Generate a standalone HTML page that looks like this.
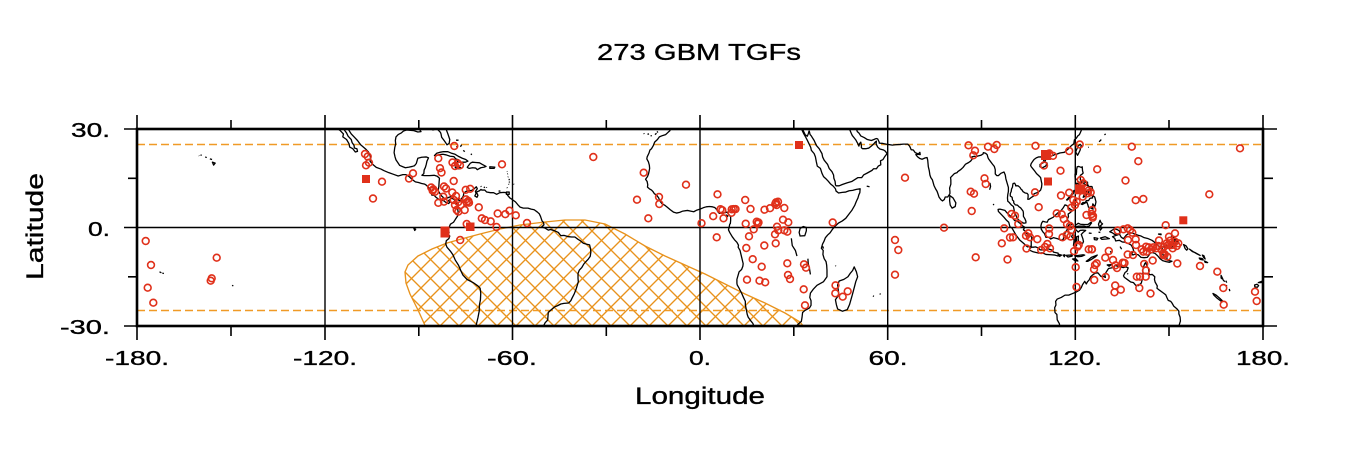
<!DOCTYPE html>
<html><head><meta charset="utf-8"><style>
html,body{margin:0;padding:0;background:#fff;}
svg{display:block;}
text{font-family:"Liberation Sans",Arial,sans-serif;fill:#000;stroke:#000;stroke-width:0.35;}
</style></head><body>
<svg width="1353" height="451" viewBox="0 0 1353 451" xmlns="http://www.w3.org/2000/svg">
<defs>
<clipPath id="pc"><rect x="137" y="129" width="1126" height="197"/></clipPath>
<pattern id="hatch" width="19" height="19" patternUnits="userSpaceOnUse" x="3" y="3">
<path d="M-2,-2L21,21M21,-2L-2,21" stroke="#e8921c" stroke-width="1.35" fill="none"/>
</pattern>
</defs>
<rect width="1353" height="451" fill="#fff"/>
<text x="597" y="60" font-size="23.5" textLength="204" lengthAdjust="spacingAndGlyphs">273 GBM TGFs</text>
<text transform="translate(43,280) rotate(-90)" font-size="24" textLength="107" lengthAdjust="spacingAndGlyphs">Latitude</text>
<text x="635" y="404" font-size="24" textLength="130" lengthAdjust="spacingAndGlyphs">Longitude</text>
<g font-size="20">
<text x="71" y="137" textLength="39" lengthAdjust="spacingAndGlyphs">30.</text>
<text x="88" y="236" textLength="22" lengthAdjust="spacingAndGlyphs">0.</text>
<text x="60" y="334" textLength="50" lengthAdjust="spacingAndGlyphs">-30.</text>
<text x="105" y="365" textLength="64" lengthAdjust="spacingAndGlyphs">-180.</text>
<text x="293" y="365" textLength="64" lengthAdjust="spacingAndGlyphs">-120.</text>
<text x="487" y="365" textLength="50" lengthAdjust="spacingAndGlyphs">-60.</text>
<text x="689" y="365" textLength="22" lengthAdjust="spacingAndGlyphs">0.</text>
<text x="868.5" y="365" textLength="39" lengthAdjust="spacingAndGlyphs">60.</text>
<text x="1048" y="365" textLength="54" lengthAdjust="spacingAndGlyphs">120.</text>
<text x="1236" y="365" textLength="54" lengthAdjust="spacingAndGlyphs">180.</text>
</g>
<g clip-path="url(#pc)">
<path d="M428,332 L418,310 L410,294 L406,283 L405,272 L408,265 L418,256 L432,249 L447,243 L465,238 L480,234 L500,229 L520,225 L545,222 L565,220 L585,220 L605,224 L625,234 L645,246 L665,256 L685,265 L705,274 L725,284 L745,294 L765,303 L785,313 L800,322 L808,332 Z" fill="url(#hatch)" stroke="#e8921c" stroke-width="1.35"/>
<path d="M137,144.5H1263M137,310.5H1263" stroke="#f09a26" stroke-width="1.5" stroke-dasharray="8,4" fill="none"/>
<g transform="matrix(3.1278 0 0 -3.283 700 227.5)" fill="none" stroke="#000" stroke-width="1.3" stroke-linejoin="round">
<path vector-effect="non-scaling-stroke" d="M-117.1,32.5L-116.6,31.5L-116,30.2L-115,29.5L-114,28.5L-114.2,27.6L-113,26.8L-112.2,25.5L-112,24.5L-111,24L-110.2,23L-109.5,23.2L-109.7,24L-110.5,24.2L-110.6,25L-111.2,25.8L-111.5,26.8L-112.5,27.8L-113,28.8L-113.8,29.8L-114.5,30.8L-114.8,31.8"/>
<path vector-effect="non-scaling-stroke" d="M-114.8,31.8L-113.5,31.3L-112.5,30L-111.5,28.5L-110.5,27.5L-109.5,26.5L-108.5,25.2L-107,24L-106,23L-105.5,22L-105.3,21L-105.5,20.2L-104.5,19.1L-103.5,18.3L-102,17.8L-101,17.3L-99.5,16.7L-98,16.2L-96.5,15.7L-95,16.1L-94,16.1L-93,15.5L-92,14.6L-91,13.9L-90,13.7L-89,13.4L-88,13.2L-87.5,12.9L-86.8,12.2L-86,11.3L-85.7,10.5L-85.8,9.9L-85,9.8L-84.5,9.3L-83.7,8.7L-83,8.3L-82,8.2L-81.2,7.6L-80.4,7.3L-80,7.6L-80.4,8.2L-79.5,8.9L-78.9,8.7L-78.4,8.3L-78.2,7.5L-77.8,7.2L-77.4,6.6L-77.5,5.8L-77.3,4.5L-77.5,3.5L-78.2,2.5L-78.8,1.6L-79.8,1L-80.1,0.3L-80.5,-0.6L-80.2,-1.5L-80.8,-2L-80,-2.6L-80.3,-3.4L-81.1,-4L-81.3,-5L-80.9,-6L-79.8,-7.2L-79,-8.3L-78.2,-10L-77.2,-11.5L-76.3,-13.5L-75.8,-14.5L-74.5,-15.8L-72.5,-16.8L-71,-17.8L-70.3,-18.5L-70.1,-20L-70.2,-22L-70.5,-23.5L-70.6,-25.5L-71,-27.5L-71.5,-29.5L-71.6,-31"/>
<path vector-effect="non-scaling-stroke" d="M-81.4,31L-81.2,30L-80.6,28.5L-80,26.8L-80.2,25.6L-80.9,25.2L-81.3,25.8L-81.9,26.6L-82.6,27.5L-82.8,28.5L-83,29L-83.8,29.8L-84.5,30L-85.4,29.7L-86.5,30.4L-88,30.5L-89,30.3L-89.6,29.8L-89.2,29.2L-90.2,29.1L-91.5,29.5L-92.5,29.6L-93.8,29.7L-94.8,29.4L-95.5,28.8L-96.5,28.3L-97.2,27.6L-97.4,26.5L-97.3,25.5L-97.6,24.3L-97.8,22.8L-97.5,21.5L-97.2,20.6L-96.5,19.6L-96,18.9L-95,18.5L-94.2,18.2L-93,18.4L-92,18.6L-91.3,18.8L-90.7,19.5L-90.4,20.5L-90.2,21.1L-89,21.4L-87.5,21.5L-86.8,21.2L-87.3,20.2L-87.5,19.3L-87.8,18.3L-88.2,17.5L-88.3,16.4L-88.9,15.9L-88,15.8L-86.5,15.8L-85,15.9L-84,15.6L-83.3,15L-83.4,14L-83.5,12.5L-83.7,11.3L-83.4,10.7L-82.6,9.6L-81.8,8.9L-81,8.9L-80,9.3L-79,9.6L-78,9.2L-77.4,8.6L-76.8,8L-76.3,8.7L-75.7,9.5L-75.5,10.5L-74.8,11L-74,11.2L-73,11.3L-72.2,11.8L-71.5,12.4L-71.2,11.8L-71.8,11L-71.6,10.4L-72,9.6L-71.3,9.2L-71,9.8L-71.5,10.8L-70.5,11.2L-70,11.6L-69.8,11.4L-68.8,11.4L-68.2,10.8L-67,10.6L-66,10.6L-65,10.1L-64,10.6L-62.7,10.7L-62,10.6L-61.5,9.8L-60.8,9L-60,8.5L-59,7.8L-58.3,7L-57.5,6.2L-56.5,5.9L-55,5.9L-54,5.6L-53,5.4L-52,4.7L-51.4,4.2L-51,3.4L-50.5,2L-50,1.5L-49.9,0.8L-50.6,0.2L-49.5,-0.2L-48.5,-0.8L-47.8,-0.6L-46.5,-1L-45.3,-1.5L-44.5,-2.5L-43.5,-2.4L-42,-2.8L-41,-2.9L-40,-2.9L-39,-3.6L-38.3,-4L-37.3,-4.8L-36.2,-5.1L-35.3,-5.3L-35,-6.5L-34.9,-7.5L-35.1,-8.8L-35.7,-9.6L-36.5,-10.4L-37.2,-11.2L-37.8,-12.2L-38.6,-13L-39,-14L-39,-15.5L-38.9,-16.5L-39.3,-17.8L-39.7,-19L-40.2,-20.2L-40.9,-21.5L-41.3,-22.3L-42,-23L-43.5,-23.1L-44.5,-23.3L-45.5,-23.8L-46.5,-24.2L-47.5,-25L-48.5,-25.8L-48.6,-27L-48.7,-28.2L-49.5,-29L-50.2,-30.3L-51,-31.5"/>
<path vector-effect="non-scaling-stroke" d="M-84.9,21.9L-84.2,22.6L-83.2,22.9L-82,23.1L-80.6,23.1L-79.4,22.6L-78.3,22.3L-77.3,21.7L-76,21.1L-74.9,20.7L-74.2,20.2L-75,19.9L-76.5,19.9L-77.6,19.9L-77.2,20.6L-78.1,20.9L-78.7,21.6L-79.9,21.7L-81.1,22.1L-82.2,22.3L-83.3,22.2L-84.3,21.9Z M-74.4,18.4L-73.4,19.6L-72.8,19.9L-71.7,19.8L-70.5,19.7L-69.6,19.2L-69,18.9L-68.4,18.6L-69,18.4L-70.1,18.2L-71.2,17.6L-71.7,18.1L-72.7,18.2L-73.8,18L-74.4,18.3Z M-78.3,18.4L-77.2,18.5L-76.3,18.1L-76.8,17.9L-77.8,17.9Z M-67.2,18.5L-65.6,18.4L-65.8,18L-67.2,18Z M-77.8,24.8L-77.6,24.2M-78,26.6L-77.2,26.6M-76.2,25.2L-76.6,24.6M-75.7,23.5L-75.2,23.1M-73.3,22.4L-72.9,22.2 M-61.9,10.8L-61,10.8L-61,10.1L-61.9,10.1Z M-61.7,17.1L-61.6,17M-61.6,16.3L-61.4,16.4M-61.3,15.5L-61.4,15.3M-61,14.8L-61,14.4M-61,14L-60.9,13.7M-61.2,13.3L-61.1,13.1M-59.6,13.3L-59.5,13.1M-61.7,12.2L-61.6,12M-70.1,12.6L-69.9,12.4M-69.1,12.4L-68.8,12.1M-68.3,12.3L-68.2,12.1M-64.4,11.1L-63.8,11.1 M-91.5,-0.2L-90.9,-0.5L-91.2,-0.9Z"/>
<path vector-effect="non-scaling-stroke" d="M-155.9,19.9L-155,19.6L-155.5,19Z M-156.7,20.9L-156,20.7M-158.2,21.5L-157.7,21.3M-159.7,22.1L-159.3,22M-160.2,21.9L-160.1,21.8 M-172.8,-13.5L-172.2,-13.8M-171.9,-13.9L-171.4,-14 M-149.6,-17.6L-149.2,-17.8"/>
<path vector-effect="non-scaling-stroke" d="M-10,31L-9.7,30.2L-9.6,29.5L-10.2,29L-11,28.3L-12,28L-13,27.6L-13.6,26.8L-14.5,26L-14.9,25L-15.5,24L-16,23.6L-16.3,22.7L-16.9,21.5L-17,20.9L-16.5,20L-16.2,19L-16.1,18L-16.3,17L-16.5,16.2L-16.8,15.5L-17.4,14.7L-16.9,14L-16.7,13L-16.8,12.3L-16.2,11.8L-15.5,11.4L-15,10.9L-14.6,10.3L-13.8,9.8L-13.2,9L-12.9,8.2L-12.2,7.3L-11.3,6.8L-10.5,6.2L-9.5,5.4L-8.5,4.7L-7.5,4.4L-6.5,4.6L-5.5,5L-4,5.2L-3,5L-2,4.8L-1,5.3L0,5.6L1,6L2,6.3L3,6.4L4,6.3L4.7,6.1L5.3,5.5L5.7,4.8L6.2,4.3L7,4.4L8,4.5L8.6,4.7L9.3,3.9L9.8,3.2L9.8,2.2L9.7,1.2L9.5,1L9.3,0L9.1,-0.7L9.5,-1.5L10.3,-2.8L11,-3.7L11.8,-4.5L12.3,-5.4L12.2,-6L12.8,-7L13.1,-8.2L13.3,-9L13.6,-10.2L13.8,-11L13.7,-11.8L13.3,-12.8L12.5,-13.5L12.2,-14.5L11.8,-15.8L11.8,-17L11.9,-17.5L12.5,-18.5L13.3,-20L13.9,-21.3L14.5,-22.5L14.5,-23.5L14.8,-25L15.1,-26.5L15.4,-27.3L16.3,-28.5L16.9,-29.2L17.4,-30.5L18,-32 M-18,28.7L-17.8,28.5M-16.8,28.4L-16.3,28.5M-15.8,28L-15.4,27.9M-14.4,28.3L-13.9,28.7M-13.8,29L-13.4,29.2 M8.4,3.8L8.9,3.5L8.6,3.2Z"/>
<path vector-effect="non-scaling-stroke" d="M32.3,31L32.4,30L32.6,29.7L33.2,28.5L33.8,27.5L34.3,26.6L34.8,25.6L35.4,24.4L35.6,23.5L36.5,22.5L36.9,21.5L37.2,20L37.5,18.7L38.5,18L39,16.5L39.5,15.5L40.2,14.9L41,14.1L41.8,13.2L42.6,12.6L43.3,11.8L43.5,11.1L44.3,10.5L45.5,10.7L46.6,10.8L47.7,11.2L48.8,11.3L50,11.6L51.2,11.8L51.1,10.6L50.8,10L50.5,9L50,8L49.5,6.8L48.6,5.3L47.8,4.3L46.6,2.8L45.5,2L44.2,1.3L43.2,0.4L42.3,-0.6L41.6,-1.6L40.8,-2.3L40.1,-3.1L39.6,-4.3L39.2,-5L38.8,-6.3L39.4,-7L39.3,-8.2L39.7,-9.5L40.3,-10.4L40.5,-11.5L40.6,-13L40.6,-14.2L40.6,-15L39.5,-16.5L37.4,-17.6L36.3,-18.7L35.3,-20L35.1,-21.3L35.5,-22.3L35.5,-23.7L35,-24.5L33.5,-25.3L32.8,-25.9L32.6,-27.5L32.4,-28.6L31.3,-29.5L30.5,-30.8L30,-31.5 M32.7,30.5L33,29.5L33.6,28.3L34.3,27.8L34.6,28.5L34.9,29.5 M34.9,29.5L35.2,28.3L35.5,28L36.5,26.5L37.2,25L38.1,24L39,22.5L39.2,21.5L39.7,20.5L40.8,19.2L41.3,18L42.2,17L42.7,16L42.8,15L43.2,14L43.3,13L43.5,12.7L44.5,12.7L45.5,13.1L47,13.6L48.5,14L49.5,14.6L50.5,15.2L51.7,15.2L52.3,16L53.5,16.6L55,17.4L55.5,17.9L56.4,17.9L57,18.7L57.8,19.1L57.7,20.3L58.5,20.7L59,21.5L59.8,22.5L59.3,23.2L58.7,23.6L57.5,23.9L56.8,24.5L56.3,25.5L56.4,26.3L56,26L55.6,25.5L54.9,24.9L54,24.2L53,24L52,24L51.6,24.3L51.6,25L51.4,26L51,25.5L50.8,24.8L50.5,25.5L50.2,26L49.8,26.7L49.3,27.3L48.7,28L48.4,28.6L48,29.5L47.8,30.2 M32,-0.3L33,0.3L34,0L34,-1L33.5,-2.5L32,-2.6L31.7,-1.5Z M29.2,-3.3L29.5,-5.5L30.5,-7L31,-8.7 M34.5,-9.5L34.6,-11L35,-12.5L35.3,-14.3 M49.3,-12L50,-13.5L50.4,-15L49.8,-16.5L49.4,-18L48.7,-20.5L47.8,-23.5L47.1,-25L45.5,-25.5L44,-24.8L43.6,-23.5L43.3,-22L44.4,-20.5L44.2,-19L44,-17.5L44.5,-16.3L46,-15.8L47.3,-15L48,-14L48.8,-13.1Z M53.3,12.6L54.2,12.4 M55.3,-20.8L55.6,-21 M57.5,-20.1L57.7,-20.4 M39.2,-5.7L39.5,-6.4 M43.3,-11.6L43.4,-11.8"/>
<path vector-effect="non-scaling-stroke" d="M48.8,30.4L50,30L50.3,29.2L50.8,28.8L51.4,27.9L52.5,27.4L53.5,26.8L54.8,26.5L55.6,26.8L56.3,27.1L56.8,27L57.3,26L57.3,25.7L58.5,25.6L59.5,25.4L61.5,25.1L62.5,25.2L64,25.3L65,25.4L66.4,25.4L67,24.8L67.3,24.2L67.5,23.7L68.2,23.6L68.8,22.8L69.8,22.4L70.3,22.9L70.4,22.2L69.4,22.3L69,22.2L69.6,21.5L70.3,21L71,20.8L72,21.2L72.6,21.3L72.8,20.5L72.9,19.5L73,18.5L73.3,17.3L73.5,16L73.8,15.2L74.3,14.5L74.6,13.5L74.8,12.8L75.3,11.8L75.8,11L76.1,10.2L76.4,9.3L77,8.5L77.5,8.1L78.1,8.5L78.4,9.3L79.2,9.3L79.9,10.3L79.9,11L79.8,12L80.2,13.2L80.2,14.5L80.1,15.2L80.8,15.9L81.3,16.4L82.2,16.7L82.4,17L83.3,17.6L84.1,18.3L84.9,19.3L85.9,19.8L86.5,20.2L87,20.8L86.9,21.5L87.8,21.7L88.3,21.6L89,21.8L89.8,22L90.5,22.4L90.6,22.8L91.3,22.6L91.8,22.2L92.1,21.2L92.4,20.7L92.8,20.2L93.5,19.3L94.1,18.6L94.4,17.6L94.4,16.3L94.9,15.8L95.4,15.8L96.2,16.5L97.2,16.9L97.6,16L97.8,14.8L98.2,13.5L98.6,12.2L98.6,11L98.4,10L98.3,9L98.4,8L98.9,7.6L99.5,6.9L100.2,6.4L100.4,5.5L100.5,4.6L101,3.8L101.3,2.9L102,2.2L102.8,1.7L103.5,1.3L104.2,1.4L104.2,1.9L103.9,2.6L103.4,3.4L103.4,4.4L103.3,5L102.5,6L102,6.3L101.5,6.8L100.8,6.9L100.3,7.5L100.3,8L99.9,8.4L99.8,9.2L99.2,9.6L99.2,10.3L99.5,11L99.6,11.7L99.9,12.3L100,13L100.1,13.4L100.6,13.5L100.9,13L100.9,12.7L101.7,12.7L102.3,12.2L102.7,11.6L102.9,11.5L103.3,10.9L104,10.5L104.6,10.4L104.9,10L104.9,9.3L104.8,8.6L105.2,8.6L106,9.2L106.7,9.6L106.8,10.3L107.5,10.5L108.3,10.9L108.9,11.4L109.2,12.3L109.3,13.3L109.1,14.2L108.9,15.2L108.3,15.8L107.6,16.4L107,17.2L106.5,17.8L105.9,18.5L105.7,18.9L105.9,19.5L106.4,20.2L106.8,20.7L107.5,21.2L108.3,21.5L109.2,21.5L109.7,21.3L109.8,20.8L109.9,20.3L110.4,20.3L110.6,21L111,21.4L111.8,21.6L112.4,21.8L113,22L113.6,22.3L114.2,22.4L115,22.7L115.8,22.8L116.5,22.9L117.2,23.5L117.8,24L118.4,24.6L118.8,25L119.5,25.5L119.6,26.1L119.7,26.7L120.3,27.2L120.8,27.9L121.3,28.3L121.6,28.9L121.9,29.6L122.1,30.2L121.8,30.9 M79.9,9.7L80.9,9L81.8,7.5L81.6,6.4L80.6,5.9L80,6.8L79.8,8.2Z M108.7,19.2L110.3,20L111,19.6L110.5,18.7L109.5,18.2L108.7,18.5Z M120.1,23L120.7,22L121,22.5L121.5,23.5L121.9,25L121.5,25.3L120.8,24.7Z M92.7,13.6L92.9,12.5L92.6,11.5 M93.8,7.2L93.9,6.8 M127.6,26.1L128.3,26.8M129.3,28.2L129.7,28.5M124.1,24.4L124.3,24.5"/>
<path vector-effect="non-scaling-stroke" d="M95.3,5.5L95.9,5.6L97.5,5.2L98.3,4.3L99.1,3.6L99.7,3.2L100.6,2.1L101.3,2L102.3,1.3L103.1,0.5L103.8,0.1L103.4,-0.7L104,-1.1L104.4,-1.8L104.9,-2.3L105.6,-2.4L106.1,-3.1L105.9,-4.3L105.9,-5.7L105.3,-5.8L104.7,-5.9L104,-5.3L103.2,-4.6L102.3,-3.9L101.4,-2.8L100.9,-2.1L100.3,-1.1L99.7,-0.1L99.1,0.2L98.7,1.6L98,2.2L97.2,3.1L96.4,3.9L95.4,4.9Z M105.2,-6.8L105.9,-6L106.6,-6L107.3,-5.9L108.3,-6.3L108.7,-6.8L110.5,-6.9L110.9,-6.4L111.6,-6.6L112.6,-6.9L113,-7.5L114.5,-7.8L114.5,-8.7L113.5,-8.4L112.2,-8.3L110.6,-8.2L109.4,-7.7L108.3,-7.8L106.5,-7.4L105.4,-6.9Z M114.5,-8.1L115.6,-8.4L115,-8.8Z M116.1,-8.4L116.6,-8.3L116.5,-8.9Z M117,-8.5L118.3,-8.4L119,-8.3L119,-8.7L117.7,-9Z M119.8,-8.6L121,-8.5L122.5,-8.3L123,-8.4L122,-8.8L120.8,-8.9Z M119.1,-9.6L120.1,-9.5L120.8,-10.2L119.9,-10.1Z M123.5,-10.3L124.5,-9.6L125.1,-9.1L127,-8.4L126.5,-8.9L125,-9.8L124,-10.3Z M109.6,1.9L110.3,1.7L111,1.6L111.4,2.4L112.9,3.1L113.9,4L114.6,4.6L115.4,5.1L116.2,6.1L116.7,6.9L117.3,6.7L117.8,6L118.5,5.5L119.2,5.2L118.3,4.5L117.7,4.1L117.8,3.3L117.4,2.5L118,1.7L118.9,0.9L118,0.9L117.6,0.2L117.4,-0.6L116.8,-1.5L116.4,-2.5L116.1,-3.7L115.3,-3.9L114.6,-3.5L113.9,-3.3L113,-3.1L112.1,-3.5L111.6,-3L110.6,-3L110.1,-1.8L109.6,-1.3L109.1,-0.5L109,0.5L109.2,1.3Z M119.4,-5.5L119.6,-4L119.5,-3.5L118.8,-2.8L119.3,-1.8L119.8,-0.8L119.8,0.2L120.1,0.7L120.9,1.3L121.6,1L122.9,0.9L124,0.9L125,1.6L125.2,1.4L124.4,0.4L123.6,0.2L122.7,0.4L121,0.4L120.2,0.2L120,-0.5L120.9,-1.4L121.5,-0.9L122.4,-0.8L123.3,-0.9L122.5,-1.5L121.9,-2.1L122.4,-3.4L122.6,-4.3L122.3,-4.9L121.6,-4.7L121,-4.2L120.9,-3.5L121,-2.6L120.3,-2.9L120.4,-4.1L120.4,-5.5L119.8,-5.7Z M120.6,18.5L121.1,18.6L121.9,18.3L122.2,18.5L122.3,17.3L122.5,16.6L122.1,16.2L121.6,15.9L121.6,15.3L121.6,14.5L121.8,14.1L122.4,14.3L123,13.8L123.9,13.8L123.9,13.2L124.2,12.6L123.8,12.8L123.3,13L122.6,13.5L122,13.8L121.3,13.6L120.7,14.2L120.6,14.6L120,14.8L119.9,15.4L119.9,16.3L120.3,16.1L120.4,17L120.4,17.6Z M120.4,13.5L121.5,13.1L121.2,12.2L120.4,12.7Z M124.3,12.5L125.3,12.5L125.6,11.4L125,11.1L124.5,11.8Z M124.3,11.5L125,11.2L125,10L124.3,10.2Z M121.9,11.9L122.8,11.6L123.1,11.2L122.2,10.5L121.9,10.6Z M122.5,10.9L123.3,10.8L123.2,9.5L122.5,9.2L122.9,10.2Z M123.4,11.2L124,10.8L123.4,9.6Z M117.2,8.4L117.8,9L118.7,10L119.6,11.3L119.4,10.4L118.3,9.2L117.5,8.4Z M121.9,7.1L122.4,7.6L123.2,7.6L123.5,8.2L124.2,8.2L124.7,8.9L125.5,9L125.5,9.8L126.2,9.3L126.6,7.8L126.4,6.9L126.2,6.4L125.6,7.2L125.4,6.1L125.7,5.6L125.2,5.8L124.2,6.2L124,6.9L123.7,7.7L122.8,7.3L122.2,7Z M127.9,2.2L128.2,1.5L128.7,1.1L128,0.5L128.5,-0.2L128,-0.8L127.7,0L127.4,1Z M128,-3.2L129.5,-2.8L130.9,-3.4L129.9,-3.5L128.5,-3.6Z M126,-3.1L127.2,-3.3L126.9,-3.8L126.1,-3.7Z M124.3,-1.7L125.2,-1.8 M127.4,-1.4L128,-1.5 M134.3,-5.8L134.8,-6.6 M131.2,-7.2L131.6,-7.9"/>
<path vector-effect="non-scaling-stroke" d="M131,-1.3L131.8,-0.8L132.5,-0.4L133.5,-0.7L134.1,-1L134.2,-2.2L134.7,-3L135.4,-3.4L136.3,-2.3L137.4,-1.6L138.3,-1.7L139.2,-2.1L140.2,-2.4L141,-2.6L142,-3.1L143.3,-3.4L144.5,-3.9L145.2,-4.4L145.8,-5L146.6,-5.6L147.6,-6.1L147.9,-6.6L147.1,-7.4L147.9,-8L148.5,-9L149.3,-9.1L149.3,-9.9L150,-10.1L150.9,-10.3L150.1,-10.6L149,-10.4L147.9,-10.1L147.1,-9.5L146.3,-8.6L145.5,-7.9L144.6,-7.6L143.9,-7.9L143.4,-8.6L143,-9.1L142,-9.2L141,-9.1L140.1,-8.3L139.1,-8.1L138.4,-8.4L138,-7.8L138.7,-7.3L138.4,-6.3L137.9,-5.4L137,-4.9L135.9,-4.5L135,-4.4L134.1,-3.9L133.4,-4L132.9,-4.1L132.6,-3.3L131.9,-2.8L133,-2.4L133.7,-2.2L132.6,-2.1L131.8,-1.6Z M148.3,-5.6L149.3,-5.6L150,-5.1L150.4,-5.5L151,-5L151.6,-4.2L152.3,-4.3L152,-5.3L151.3,-5.6L150.4,-6.3L149.3,-6.2L148.3,-5.9Z M150.7,-2.6L151.9,-3.3L152.6,-3.9L153.1,-4.5L153,-4.9L152.4,-4.3L151.6,-3.6Z M146.6,-2L147.4,-2L147.4,-2.2Z M154.6,-5.2L155.4,-5.6L156,-6.5L155.6,-6.9L155.1,-6.4Z M156.5,-6.6L157.4,-7.3L158.4,-7.7L159.5,-8.3L159.9,-8.5L159,-8.1L157.9,-7.5Z M159.6,-9.3L160.6,-9.5L160.9,-9.9L159.9,-9.7Z M160.6,-8.4L161.1,-8.6L161.5,-9.6L161,-9.1Z M161.3,-10.2L162.3,-10.7L161.5,-10.6Z M166.6,-14.6L167.2,-15.8L166.6,-15.4Z M167.2,-16L167.8,-16.5M168.1,-16.2L168.4,-16.8M168.2,-17.6L168.5,-17.8M169.2,-18.7L169.4,-19.4 M164,-20.1L165,-20.6L166.2,-21.6L167,-22.3L166.5,-22.4L165.4,-21.6L164.3,-20.6Z M177.3,-17.5L178.1,-17.3L178.6,-17.7L178.2,-18.2L177.4,-18.1Z M178.5,-16.8L179.9,-16.3L179.4,-16.8Z"/>
<path vector-effect="non-scaling-stroke" d="M115.6,-33L115.7,-31.6L115.1,-30.5L114.9,-29.3L114.2,-28.1L114.1,-26.5L113.5,-25.9L113.4,-24.4L113.8,-23.6L113.7,-22.5L114.2,-21.8L115.5,-21.3L116.7,-20.6L117.9,-20.6L118.9,-20.2L120.4,-19.6L121.3,-19.1L121.9,-18.3L122.3,-17.4L123,-16.4L123.5,-17.2L123.9,-16.5L124.4,-16L124.9,-15L125.6,-14.4L126.4,-13.9L127.2,-13.8L128.2,-14.9L129,-14.9L129.6,-15.2L129.4,-14.3L130.2,-13.1L130.6,-12.5L131.6,-12.3L132.4,-12.2L132.6,-11.5L133.5,-11.8L134.4,-12L135.4,-12.2L136.2,-12L136.9,-12.3L136.5,-13.3L135.9,-13.7L135.4,-14.7L135.7,-15.2L136.7,-15.9L137.7,-16.6L138.6,-16.8L139.3,-17.6L140.2,-17.7L141.1,-16.9L141.5,-15.4L141.6,-14L141.6,-12.9L141.8,-12L142.2,-11L142.5,-10.7L142.9,-11.8L143.4,-12.4L143.5,-13.6L143.6,-14.4L144.6,-14.3L145.4,-15L145.3,-15.8L145.5,-16.6L146.2,-17.8L146.1,-18.5L146.9,-19.1L148.2,-20L148.9,-20.5L149.3,-21.4L149.7,-22.2L150.5,-22.5L150.9,-23L151.5,-24L152.4,-24.7L153.1,-25.5L153.1,-26.3L153.5,-27.3L153.6,-28.5L153.1,-30L153,-31L152.5,-32.5 M130.2,-11.4L131.5,-11.3L130.8,-11.8Z M136.6,-14L136.9,-14.2"/>
</g>
</g>
<g stroke="#000" stroke-width="1.4" fill="none">
<path d="M325,129V326M512.5,129V326M700,129V326M887.7,129V326M1075.3,129V326M137,227.5H1263"/>
</g>
<g stroke="#000" stroke-width="1.6" fill="none">
<path d="M124,129H137M124,227.5H137M124,326H137M128,178.3H137M128,276.8H137"/>
<path d="M1263,129H1277M1263,227.5H1277M1263,326H1277M1263,178.3H1273M1263,276.8H1273"/>
<path d="M137,115V129M325,115V129M512.5,115V129M700,115V129M887.7,115V129M1075.3,115V129M1263,115V129M231,120V129M418.8,120V129M606.3,120V129M793.8,120V129M981.5,120V129M1169,120V129"/>
<path d="M137,326V340M325,326V340M512.5,326V340M700,326V340M887.7,326V340M1075.3,326V340M1263,326V340M231,326V336M418.8,326V336M606.3,326V336M793.8,326V336M981.5,326V336M1169,326V336"/>
</g>
<g fill="none" stroke="#e0301a" stroke-width="1.6">
<circle cx="145.7" cy="241" r="3.4"/><circle cx="151" cy="265" r="3.4"/><circle cx="147.7" cy="287.7" r="3.4"/><circle cx="153.3" cy="302.7" r="3.4"/><circle cx="216.7" cy="257.7" r="3.4"/><circle cx="211.7" cy="278.3" r="3.4"/><circle cx="210.7" cy="280.7" r="3.4"/>
<circle cx="365" cy="154" r="3.4"/><circle cx="367.7" cy="156.5" r="3.4"/><circle cx="369" cy="162.7" r="3.4"/><circle cx="366" cy="165.3" r="3.4"/><circle cx="382" cy="181.7" r="3.4"/><circle cx="373" cy="198.5" r="3.4"/><circle cx="413" cy="173.3" r="3.4"/><circle cx="409" cy="178.5" r="3.4"/>
<circle cx="454.3" cy="146" r="3.4"/><circle cx="438.3" cy="158.3" r="3.4"/><circle cx="440" cy="168.2" r="3.4"/><circle cx="441.5" cy="172.5" r="3.4"/><circle cx="452.5" cy="162.5" r="3.4"/><circle cx="455" cy="166" r="3.4"/><circle cx="460" cy="165.3" r="3.4"/><circle cx="457.7" cy="163.3" r="3.4"/><circle cx="502" cy="164.3" r="3.4"/><circle cx="453.7" cy="181" r="3.4"/>
<circle cx="431.2" cy="187.5" r="3.4"/><circle cx="433.3" cy="189.3" r="3.4"/><circle cx="435" cy="191.7" r="3.4"/><circle cx="432.7" cy="190.7" r="3.4"/><circle cx="444" cy="186.5" r="3.4"/><circle cx="446" cy="188.5" r="3.4"/><circle cx="443.3" cy="196.7" r="3.4"/><circle cx="438.3" cy="202.8" r="3.4"/><circle cx="444" cy="201.7" r="3.4"/><circle cx="452.3" cy="192.5" r="3.4"/><circle cx="456" cy="196" r="3.4"/><circle cx="453.7" cy="200" r="3.4"/><circle cx="458.3" cy="202" r="3.4"/><circle cx="455" cy="205" r="3.4"/><circle cx="456.7" cy="210" r="3.4"/><circle cx="458.3" cy="211.7" r="3.4"/><circle cx="460.7" cy="205" r="3.4"/><circle cx="464.7" cy="210" r="3.4"/>
<circle cx="465.7" cy="189.8" r="3.4"/><circle cx="470.2" cy="188.8" r="3.4"/><circle cx="466" cy="199.3" r="3.4"/><circle cx="468.3" cy="201" r="3.4"/><circle cx="469" cy="202.7" r="3.4"/><circle cx="466.7" cy="202.3" r="3.4"/><circle cx="478.8" cy="207.3" r="3.4"/><circle cx="481.8" cy="218.3" r="3.4"/><circle cx="485" cy="220" r="3.4"/><circle cx="490.7" cy="221.3" r="3.4"/><circle cx="496.5" cy="227" r="3.4"/><circle cx="497.7" cy="213.5" r="3.4"/><circle cx="505.3" cy="214.2" r="3.4"/><circle cx="509.5" cy="210.7" r="3.4"/><circle cx="515.8" cy="215.3" r="3.4"/><circle cx="527" cy="223" r="3.4"/><circle cx="466.7" cy="224" r="3.4"/><circle cx="460.2" cy="240" r="3.4"/>
<circle cx="593.3" cy="157" r="3.4"/><circle cx="643.7" cy="172.7" r="3.4"/><circle cx="637" cy="199.7" r="3.4"/><circle cx="659" cy="197" r="3.4"/><circle cx="659.3" cy="204" r="3.4"/><circle cx="648.3" cy="218.3" r="3.4"/><circle cx="686" cy="184.7" r="3.4"/><circle cx="701.5" cy="223.2" r="3.4"/><circle cx="717.5" cy="194.3" r="3.4"/><circle cx="713.2" cy="216.2" r="3.4"/><circle cx="716.7" cy="237.3" r="3.4"/>
<circle cx="720.5" cy="209.2" r="3.4"/><circle cx="722.3" cy="210.2" r="3.4"/><circle cx="723.5" cy="218.3" r="3.4"/><circle cx="731.7" cy="209.3" r="3.4"/><circle cx="733.7" cy="209.1" r="3.4"/><circle cx="735.5" cy="209.1" r="3.4"/><circle cx="731.5" cy="212.8" r="3.4"/><circle cx="745.2" cy="200" r="3.4"/><circle cx="750.5" cy="209" r="3.4"/><circle cx="745.7" cy="223.7" r="3.4"/><circle cx="756.7" cy="221.7" r="3.4"/><circle cx="758.5" cy="222.5" r="3.4"/><circle cx="757.7" cy="223.7" r="3.4"/><circle cx="753.7" cy="229.3" r="3.4"/><circle cx="749" cy="236.3" r="3.4"/><circle cx="746.3" cy="248" r="3.4"/>
<circle cx="764.5" cy="209.7" r="3.4"/><circle cx="770" cy="208.2" r="3.4"/><circle cx="776" cy="202.3" r="3.4"/><circle cx="778" cy="201.7" r="3.4"/><circle cx="776.7" cy="205" r="3.4"/><circle cx="775.3" cy="203.7" r="3.4"/><circle cx="784.3" cy="208" r="3.4"/><circle cx="783" cy="219.7" r="3.4"/><circle cx="788.3" cy="222.3" r="3.4"/><circle cx="777" cy="226.7" r="3.4"/><circle cx="778.3" cy="230.3" r="3.4"/><circle cx="775" cy="234.3" r="3.4"/><circle cx="784.3" cy="230.3" r="3.4"/><circle cx="787.3" cy="231.7" r="3.4"/><circle cx="764.3" cy="245.5" r="3.4"/><circle cx="775.7" cy="243.3" r="3.4"/>
<circle cx="752.7" cy="259.2" r="3.4"/><circle cx="761.7" cy="266.7" r="3.4"/><circle cx="787.3" cy="263.3" r="3.4"/><circle cx="788" cy="275" r="3.4"/><circle cx="790" cy="279" r="3.4"/><circle cx="747" cy="279.7" r="3.4"/><circle cx="759.5" cy="280.7" r="3.4"/><circle cx="765.2" cy="282.3" r="3.4"/><circle cx="804" cy="264.3" r="3.4"/><circle cx="806" cy="267.7" r="3.4"/><circle cx="803.7" cy="289.3" r="3.4"/><circle cx="805" cy="305.3" r="3.4"/><circle cx="832.7" cy="222.5" r="3.4"/><circle cx="835.5" cy="285.3" r="3.4"/><circle cx="835.3" cy="293.3" r="3.4"/><circle cx="842.7" cy="296.7" r="3.4"/><circle cx="847.7" cy="291.3" r="3.4"/>
<circle cx="905" cy="177.7" r="3.4"/><circle cx="895" cy="240" r="3.4"/><circle cx="898.3" cy="250" r="3.4"/><circle cx="895" cy="274.7" r="3.4"/><circle cx="944" cy="227.7" r="3.4"/><circle cx="975.7" cy="257.3" r="3.4"/><circle cx="971.7" cy="211" r="3.4"/><circle cx="970.7" cy="191.7" r="3.4"/><circle cx="974" cy="193.7" r="3.4"/><circle cx="968.5" cy="145.3" r="3.4"/><circle cx="975" cy="150.7" r="3.4"/><circle cx="973.3" cy="155.3" r="3.4"/><circle cx="988" cy="146.7" r="3.4"/><circle cx="984.5" cy="178.3" r="3.4"/><circle cx="985.7" cy="184" r="3.4"/><circle cx="994.3" cy="149" r="3.4"/><circle cx="996.7" cy="145" r="3.4"/><circle cx="1035.5" cy="145.8" r="3.4"/>
<circle cx="1007.5" cy="259.5" r="3.4"/><circle cx="1001.8" cy="243.3" r="3.4"/><circle cx="1004.2" cy="228.3" r="3.4"/><circle cx="1010" cy="237.5" r="3.4"/><circle cx="1013" cy="237.3" r="3.4"/><circle cx="1011.5" cy="214" r="3.4"/><circle cx="1015" cy="215.7" r="3.4"/><circle cx="1018.3" cy="224" r="3.4"/><circle cx="1026" cy="235.7" r="3.4"/><circle cx="1028.3" cy="233.3" r="3.4"/><circle cx="1030" cy="237.3" r="3.4"/><circle cx="1026.5" cy="248.5" r="3.4"/><circle cx="1037.3" cy="239.2" r="3.4"/><circle cx="1041.2" cy="250" r="3.4"/><circle cx="1047.3" cy="244" r="3.4"/><circle cx="1050" cy="248.3" r="3.4"/><circle cx="1045" cy="247" r="3.4"/>
<circle cx="1035" cy="192.3" r="3.4"/><circle cx="1038.7" cy="207.2" r="3.4"/><circle cx="1060.5" cy="170.7" r="3.4"/><circle cx="1049.3" cy="153.5" r="3.4"/><circle cx="1053" cy="155.8" r="3.4"/><circle cx="1044" cy="165.5" r="3.4"/><circle cx="1069.2" cy="151" r="3.4"/><circle cx="1061" cy="195.5" r="3.4"/><circle cx="1069.2" cy="192.7" r="3.4"/><circle cx="1056.7" cy="213.3" r="3.4"/><circle cx="1061.7" cy="214.3" r="3.4"/><circle cx="1063.8" cy="219" r="3.4"/><circle cx="1049.2" cy="228.5" r="3.4"/><circle cx="1049" cy="234" r="3.4"/><circle cx="1062.5" cy="237.3" r="3.4"/><circle cx="1066.7" cy="235" r="3.4"/><circle cx="1067" cy="224.2" r="3.4"/><circle cx="1070" cy="226" r="3.4"/><circle cx="1071.7" cy="230" r="3.4"/><circle cx="1070.5" cy="236.5" r="3.4"/>
<circle cx="1079.7" cy="144.5" r="3.4"/><circle cx="1080.7" cy="180" r="3.4"/><circle cx="1083.3" cy="183.3" r="3.4"/><circle cx="1088.3" cy="190.7" r="3.4"/><circle cx="1090.7" cy="192.3" r="3.4"/><circle cx="1087.7" cy="193.3" r="3.4"/><circle cx="1082.7" cy="196.7" r="3.4"/><circle cx="1097.2" cy="169.3" r="3.4"/><circle cx="1073.3" cy="200" r="3.4"/><circle cx="1076.7" cy="201.7" r="3.4"/><circle cx="1075" cy="205" r="3.4"/><circle cx="1071.3" cy="207.7" r="3.4"/><circle cx="1092.3" cy="210" r="3.4"/><circle cx="1091.7" cy="214" r="3.4"/><circle cx="1086.5" cy="215" r="3.4"/><circle cx="1092.7" cy="217.7" r="3.4"/><circle cx="1093" cy="216" r="3.4"/>
<circle cx="1078.7" cy="245" r="3.4"/><circle cx="1077.5" cy="246.7" r="3.4"/><circle cx="1074" cy="251.2" r="3.4"/><circle cx="1088.7" cy="249.3" r="3.4"/><circle cx="1092" cy="249.3" r="3.4"/><circle cx="1075.7" cy="267.2" r="3.4"/><circle cx="1076.5" cy="287" r="3.4"/><circle cx="1094.2" cy="280" r="3.4"/><circle cx="1094" cy="269.3" r="3.4"/><circle cx="1096.7" cy="263.3" r="3.4"/><circle cx="1095" cy="265" r="3.4"/><circle cx="1105.7" cy="277" r="3.4"/><circle cx="1105.3" cy="257.7" r="3.4"/><circle cx="1108.8" cy="251" r="3.4"/><circle cx="1113" cy="260" r="3.4"/><circle cx="1115.5" cy="265.3" r="3.4"/><circle cx="1117" cy="268" r="3.4"/><circle cx="1122.7" cy="262.7" r="3.4"/><circle cx="1124.5" cy="263" r="3.4"/><circle cx="1091.7" cy="249.3" r="3.4"/><circle cx="1115.2" cy="285.5" r="3.4"/><circle cx="1114.5" cy="292.3" r="3.4"/><circle cx="1120.8" cy="289.7" r="3.4"/>
<circle cx="1131.8" cy="146.7" r="3.4"/><circle cx="1138.3" cy="161.2" r="3.4"/><circle cx="1125.5" cy="180.5" r="3.4"/><circle cx="1135.7" cy="200.2" r="3.4"/><circle cx="1143.3" cy="199" r="3.4"/><circle cx="1117.7" cy="230.5" r="3.4"/><circle cx="1123.5" cy="229.3" r="3.4"/><circle cx="1127.7" cy="228.3" r="3.4"/><circle cx="1130" cy="230" r="3.4"/><circle cx="1132.3" cy="232.7" r="3.4"/><circle cx="1135.7" cy="239.3" r="3.4"/><circle cx="1128" cy="240" r="3.4"/><circle cx="1127.7" cy="254.5" r="3.4"/><circle cx="1133" cy="255" r="3.4"/><circle cx="1136" cy="245" r="3.4"/>
<circle cx="1141.7" cy="249.3" r="3.4"/><circle cx="1143.3" cy="251.7" r="3.4"/><circle cx="1146" cy="246.7" r="3.4"/><circle cx="1148.7" cy="247.3" r="3.4"/><circle cx="1151" cy="249.3" r="3.4"/><circle cx="1146.7" cy="251.7" r="3.4"/><circle cx="1153.3" cy="247.3" r="3.4"/><circle cx="1156" cy="248.3" r="3.4"/><circle cx="1158.3" cy="246" r="3.4"/><circle cx="1159" cy="240.5" r="3.4"/><circle cx="1161.7" cy="250" r="3.4"/><circle cx="1163.3" cy="253.3" r="3.4"/><circle cx="1164" cy="246.7" r="3.4"/><circle cx="1166.7" cy="243.3" r="3.4"/><circle cx="1169" cy="236.7" r="3.4"/><circle cx="1170" cy="240.7" r="3.4"/><circle cx="1171.7" cy="245" r="3.4"/><circle cx="1175" cy="233.3" r="3.4"/><circle cx="1175" cy="241.7" r="3.4"/><circle cx="1176.7" cy="246" r="3.4"/><circle cx="1178.3" cy="243.3" r="3.4"/><circle cx="1167.3" cy="256.7" r="3.4"/><circle cx="1164.7" cy="254.3" r="3.4"/><circle cx="1172.7" cy="248.3" r="3.4"/><circle cx="1168.3" cy="245" r="3.4"/><circle cx="1163.5" cy="255.2" r="3.4"/>
<circle cx="1177.3" cy="263.5" r="3.4"/><circle cx="1200" cy="266" r="3.4"/><circle cx="1152.7" cy="260.5" r="3.4"/><circle cx="1144.2" cy="264" r="3.4"/><circle cx="1136.8" cy="276.7" r="3.4"/><circle cx="1140" cy="276.7" r="3.4"/><circle cx="1145.7" cy="276.7" r="3.4"/><circle cx="1146" cy="270.5" r="3.4"/><circle cx="1139.3" cy="288" r="3.4"/><circle cx="1150.5" cy="293.5" r="3.4"/><circle cx="1165.7" cy="225.2" r="3.4"/>
<circle cx="1240" cy="148.3" r="3.4"/><circle cx="1209.3" cy="194.3" r="3.4"/><circle cx="1217.3" cy="271.7" r="3.4"/><circle cx="1223.3" cy="288" r="3.4"/><circle cx="1223.7" cy="304.7" r="3.4"/><circle cx="1255" cy="291.7" r="3.4"/><circle cx="1256.7" cy="301" r="3.4"/>
</g>
<g fill="#e0301a">
<rect x="362" y="175" width="8" height="8"/>
<rect x="440.5" y="226.5" width="9" height="11"/>
<rect x="466" y="222.5" width="8.5" height="8.5"/>
<rect x="795" y="141" width="8" height="8"/>
<rect x="1041" y="150" width="10" height="10"/>
<rect x="1044" y="177.5" width="8" height="8"/>
<rect x="1075" y="184.3" width="10" height="10"/>
<rect x="1179.3" y="216.3" width="8" height="8"/>
</g>
<rect x="137" y="129" width="1126" height="197" fill="none" stroke="#000" stroke-width="2.6"/>
</svg>
</body></html>
